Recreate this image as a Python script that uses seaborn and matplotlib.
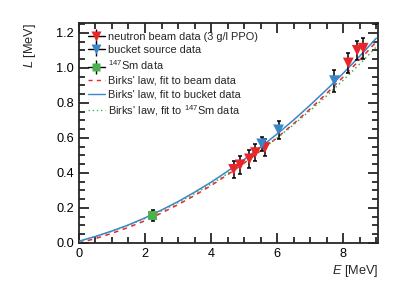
import numpy as np
import pandas as pd
import matplotlib
matplotlib.use("Agg")
import matplotlib.pyplot as plt
from matplotlib.lines import Line2D
from matplotlib.legend_handler import HandlerTuple
from matplotlib.ticker import MultipleLocator, FormatStrFormatter
import seaborn as sns

# neutron beam data (3 g/l PPO)
beam_E = [4.68, 4.88, 5.16, 5.34, 5.63, 8.15, 8.42, 8.60]
beam_L = [0.420, 0.446, 0.480, 0.516, 0.545, 1.028, 1.100, 1.112]
beam_err = [0.050, 0.050, 0.050, 0.050, 0.050, 0.055, 0.055, 0.060]

# bucket source data
bucket_E = [5.53, 6.04, 7.73]
bucket_L = [0.566, 0.646, 0.927]
bucket_err = [0.040, 0.050, 0.062]

# 147Sm data
sm_E = [2.23]
sm_L = [0.157]
sm_err = [0.030]

# Birks' law fit curves
curve_E = [0.0, 0.5, 1.0, 1.5, 2.0, 2.5, 3.0, 3.5, 4.0, 4.5,
           5.0, 5.5, 6.0, 6.5, 7.0, 7.5, 8.0, 8.5, 9.0]
fit_beam = [0.000, 0.025, 0.055, 0.089, 0.127, 0.171, 0.219, 0.271, 0.328, 0.390,
            0.456, 0.527, 0.602, 0.682, 0.766, 0.855, 0.949, 1.047, 1.150]
fit_bucket = [0.010, 0.037, 0.068, 0.103, 0.143, 0.188, 0.236, 0.290, 0.347, 0.410,
              0.477, 0.548, 0.623, 0.703, 0.788, 0.877, 0.970, 1.068, 1.170]
fit_sm = [0.010, 0.036, 0.067, 0.101, 0.140, 0.183, 0.230, 0.281, 0.337, 0.396,
          0.460, 0.528, 0.600, 0.676, 0.757, 0.841, 0.930, 1.023, 1.120]

RED = "#e8262a"
BLUE = "#3a86c8"
GREEN = "#4cb050"

sns.set_style("ticks")
plt.rcParams["font.family"] = ["Liberation Sans", "DejaVu Sans"]
plt.rcParams["mathtext.fontset"] = "custom"
plt.rcParams["mathtext.rm"] = "Liberation Sans"
plt.rcParams["mathtext.it"] = "Liberation Sans:italic"

fig = plt.figure(figsize=(4.15, 2.97), dpi=100)
ax = fig.add_axes([0.190, 0.182, 0.721, 0.741])

curves = pd.DataFrame({"E": curve_E, "beam": fit_beam, "bucket": fit_bucket, "sm": fit_sm})
sns.lineplot(data=curves, x="E", y="beam", ax=ax, color=RED, lw=1.1,
             linestyle=(0, (3, 3)), zorder=2)
sns.lineplot(data=curves, x="E", y="sm", ax=ax, color=GREEN, lw=1.1,
             linestyle=(0, (1, 2)), zorder=2)
sns.lineplot(data=curves, x="E", y="bucket", ax=ax, color=BLUE, lw=1.1, zorder=3)

# error bars
for xs, ys, es in [(beam_E, beam_L, beam_err), (bucket_E, bucket_L, bucket_err),
                   (sm_E, sm_L, sm_err)]:
    ax.errorbar(xs, ys, yerr=es, fmt="none", ecolor="black", elinewidth=1.1,
                capsize=1.5, capthick=1.1, zorder=4)

sns.scatterplot(x=beam_E, y=beam_L, ax=ax, marker="v", color=RED, s=60,
                edgecolor="none", zorder=5)
sns.scatterplot(x=bucket_E, y=bucket_L, ax=ax, marker="v", color=BLUE, s=60,
                edgecolor="none", zorder=5)
sns.scatterplot(x=sm_E, y=sm_L, ax=ax, marker="s", color=GREEN, s=42,
                edgecolor="none", zorder=5)

ax.set_xlim(0, 9.05)
ax.set_ylim(0, 1.257)
ax.xaxis.set_major_locator(MultipleLocator(2))
ax.xaxis.set_minor_locator(MultipleLocator(0.5))
ax.yaxis.set_major_locator(MultipleLocator(0.2))
ax.yaxis.set_minor_locator(MultipleLocator(0.05))
ax.yaxis.set_major_formatter(FormatStrFormatter("%.1f"))
ax.tick_params(which="both", direction="in", top=True, right=True,
               width=1.1, labelsize=9.2, colors="black")
ax.tick_params(which="major", length=7)
ax.tick_params(which="minor", length=4)
for sp in ax.spines.values():
    sp.set_linewidth(1.3)
    sp.set_visible(True)

ax.set_xlabel("$\\it{E}$ [MeV]", fontsize=9.2, ha="right")
ax.xaxis.set_label_coords(1.0, -0.09)
ax.set_ylabel("$\\it{L}$ [MeV]", fontsize=9.2, ha="right")
ax.yaxis.set_label_coords(-0.135, 1.0)


def data_handle(color, marker, ms):
    hline = Line2D([], [], color="black", lw=1.0)
    vline = Line2D([], [], color="black", marker="|", markersize=10, ls="none", mew=1.0)
    mark = Line2D([], [], color=color, marker=marker, markersize=ms, ls="none", mec="none")
    return (hline, vline, mark)


handles = [
    data_handle(RED, "v", 7),
    data_handle(BLUE, "v", 7),
    data_handle(GREEN, "s", 6),
    Line2D([], [], color=RED, lw=1.0, linestyle=(0, (3, 3))),
    Line2D([], [], color=BLUE, lw=1.0),
    Line2D([], [], color=GREEN, lw=1.0, linestyle=(0, (1, 2))),
]
labels = [
    "neutron beam data (3 g/l PPO)",
    "bucket source data",
    "$^{147}$Sm data",
    "Birks' law, fit to beam data",
    "Birks' law, fit to bucket data",
    "Birks' law, fit to $^{147}$Sm data",
]
ax.legend(handles, labels, loc="upper left", bbox_to_anchor=(0.0, 1.0),
          frameon=False, fontsize=7.9, handlelength=1.6, handletextpad=0.3,
          labelspacing=0.32, borderaxespad=0.4,
          handler_map={tuple: HandlerTuple(ndivide=1)})

fig.savefig("out.png", dpi=100)
